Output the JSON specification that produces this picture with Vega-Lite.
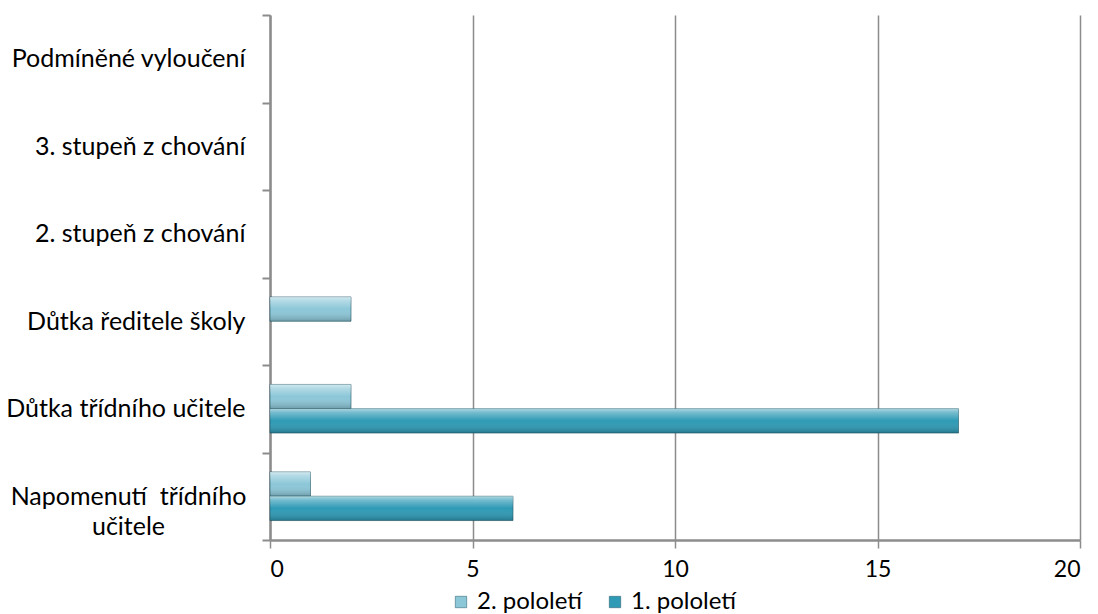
{
  "$schema": "https://vega.github.io/schema/vega-lite/v6.json",
  "width": 810,
  "height": 525,
  "autosize": {"type": "none"},
  "padding": {"left": 270, "top": 15, "right": 18, "bottom": 74},
  "background": "white",
  "config": {"view": {"stroke": null}, "font": "Lato"},
  "data": {
    "values": [
      {"kategorie": "Podmíněné vyloučení", "pololeti": "2. pololetí", "pocet": 0},
      {"kategorie": "Podmíněné vyloučení", "pololeti": "1. pololetí", "pocet": 0},
      {"kategorie": "3. stupeň z chování", "pololeti": "2. pololetí", "pocet": 0},
      {"kategorie": "3. stupeň z chování", "pololeti": "1. pololetí", "pocet": 0},
      {"kategorie": "2. stupeň z chování", "pololeti": "2. pololetí", "pocet": 0},
      {"kategorie": "2. stupeň z chování", "pololeti": "1. pololetí", "pocet": 0},
      {"kategorie": "Důtka ředitele školy", "pololeti": "2. pololetí", "pocet": 2},
      {"kategorie": "Důtka ředitele školy", "pololeti": "1. pololetí", "pocet": 0},
      {"kategorie": "Důtka třídního učitele", "pololeti": "2. pololetí", "pocet": 2},
      {"kategorie": "Důtka třídního učitele", "pololeti": "1. pololetí", "pocet": 17},
      {"kategorie": "Napomenutí třídního učitele", "pololeti": "2. pololetí", "pocet": 1},
      {"kategorie": "Napomenutí třídního učitele", "pololeti": "1. pololetí", "pocet": 6}
    ]
  },
  "transform": [{"filter": "datum.pocet > 0"}],
  "encoding": {
    "y": {
      "field": "kategorie",
      "type": "nominal",
      "scale": {
        "domain": ["Podmíněné vyloučení", "3. stupeň z chování", "2. stupeň z chování", "Důtka ředitele školy", "Důtka třídního učitele", "Napomenutí třídního učitele"],
        "paddingInner": 0,
        "paddingOuter": 0
      },
      "axis": {
        "title": null,
        "domainColor": "#8c8c8c",
        "domainWidth": 2.5,
        "tickColor": "#8c8c8c",
        "tickWidth": 2,
        "tickSize": 8,
        "tickBand": "extent",
        "labelFontSize": 25,
        "labelColor": "#000000",
        "labelLimit": 300,
        "labelLineHeight": 30,
        "labelExpr": "datum.value == 'Napomenutí třídního učitele' ? ['Napomenutí\u00a0 třídního', 'učitele'] : datum.value",
        "labelAlign": {"condition": {"test": "datum.value == 'Napomenutí třídního učitele'", "value": "center"}, "value": "right"},
        "labelPadding": {"condition": {"test": "datum.value == 'Napomenutí třídního učitele'", "value": 134}, "value": 17}
      }
    },
    "x": {
      "field": "pocet",
      "type": "quantitative",
      "scale": {"domain": [0, 20]},
      "axis": {
        "title": null,
        "values": [0, 5, 10, 15, 20],
        "grid": true,
        "gridColor": "#8c8c8c",
        "gridWidth": 1.5,
        "domainColor": "#8c8c8c",
        "domainWidth": 2.5,
        "tickColor": "#8c8c8c",
        "tickWidth": 1.5,
        "tickSize": 8,
        "labelFontSize": 23,
        "labelColor": "#000000",
        "labelPadding": 10
      }
    },
    "yOffset": {
      "field": "pololeti",
      "type": "nominal",
      "scale": {"domain": ["2. pololetí", "1. pololetí"], "paddingOuter": 0.8, "paddingInner": 0}
    }
  },
  "layer": [
    {
      "mark": {"type": "bar", "stroke": "#1e5563", "strokeOpacity": 0.6, "strokeWidth": 1},
      "encoding": {
        "color": {
          "field": "pololeti",
          "type": "nominal",
          "scale": {"domain": ["2. pololetí", "1. pololetí"], "range": ["#8cc7d8", "#2e9ab5"]},
          "legend": {
            "title": null,
            "orient": "none",
            "legendX": 179,
            "legendY": 575,
            "direction": "horizontal",
            "symbolType": "square",
            "symbolSize": 130,
            "symbolStrokeColor": "#1e5563",
            "symbolStrokeWidth": 0.5,
            "labelFontSize": 24,
            "labelColor": "#000000",
            "labelOffset": 4,
            "columnPadding": 20,
            "padding": 0
          }
        }
      }
    },
    {
      "mark": {
        "type": "bar",
        "fill": {
          "gradient": "linear",
          "x1": 0, "y1": 0, "x2": 0, "y2": 1,
          "stops": [
            {"offset": 0, "color": "rgba(255,255,255,0.6)"},
            {"offset": 0.15, "color": "rgba(255,255,255,0.35)"},
            {"offset": 0.5, "color": "rgba(255,255,255,0)"},
            {"offset": 1, "color": "rgba(0,0,0,0.22)"}
          ]
        }
      }
    }
  ]
}
